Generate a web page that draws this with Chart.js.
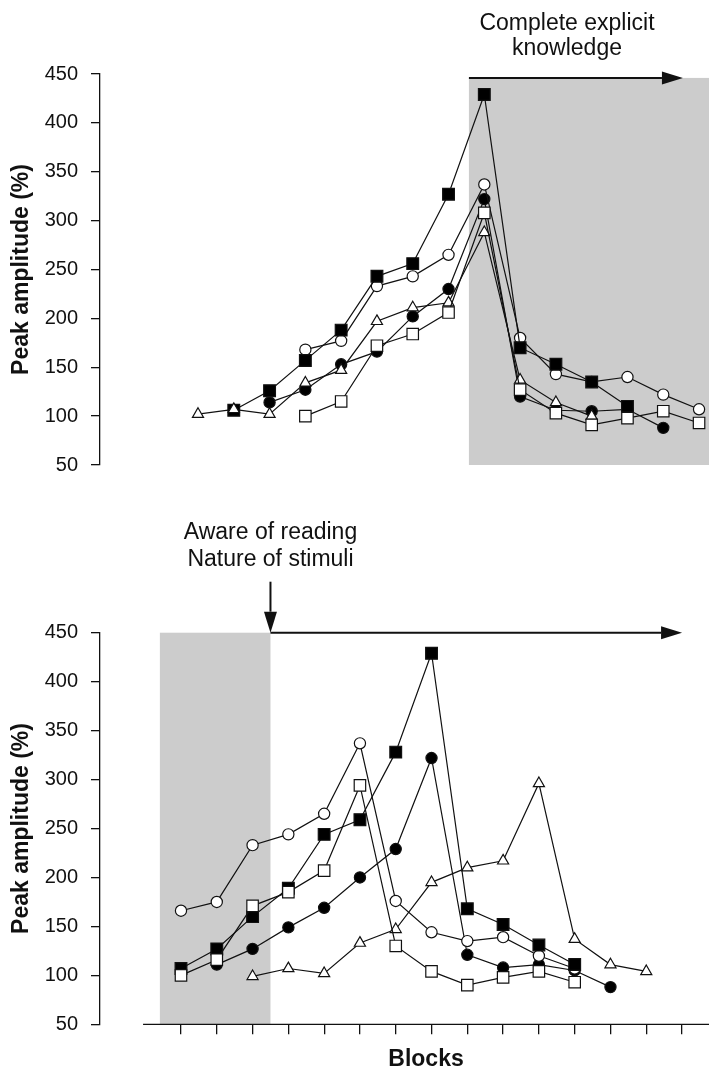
<!DOCTYPE html>
<html>
<head>
<meta charset="utf-8">
<title>Peak amplitude by block</title>
<script src="https://cdn.jsdelivr.net/npm/chart.js@4.4.1/dist/chart.umd.min.js"></script>
<style>
    html, body { margin: 0; padding: 0; background: #fff; }
    #page { position: relative; width: 709px; height: 1070px; }
    .panel { position: absolute; left: 0; width: 709px; }
    #top-panel { top: 0; height: 500px; }
    #bottom-panel { top: 500px; height: 570px; }
</style>
</head>
<body>
<div id="page">
    <div class="panel" id="top-panel"><canvas id="explicitChart"></canvas></div>
    <div class="panel" id="bottom-panel"><canvas id="awareChart"></canvas></div>
</div>
<script>
var FONT = '"Liberation Sans", Arial, Helvetica, sans-serif';
var INK = '#111';
var SHADE = '#cccccc';

// tick marks on the Blocks axis
var blocks = [ 1, 2, 3, 4, 5, 6, 7, 8, 9, 10, 11, 12, 13, 14, 15 ];
var yMin = 50;
var yMax = 450;
var yStep = 50;

// series order everywhere: filled square, open circle, filled circle, open square, open triangle

// top panel: aligned on complete explicit knowledge
var topFilledSquare = [ 106, 126, 157, 188, 243, 256, 327, 429, 170, 153, 135, 110 ];
var topOpenCircle = [ 168, 177, 233, 243, 265, 337, 180, 143, 135, 140, 122, 107 ];
var topFilledCircle = [ 114, 127, 153, 166, 202, 230, 322, 120, 106, 105, 107, 88 ];
var topOpenSquare = [ 100, 115, 172, 184, 206, 308, 127, 103, 91, 98, 105, 93 ];
var topOpenTriangle = [ 102, 107, 102, 134, 147, 197, 211, 216, 288, 137, 114, 100 ];
var topFirstBlock = [ 2, 4, 3, 4, 1 ];

// bottom panel: aligned on awareness of the reading nature of the stimuli
var bottomFilledSquare = [ 107, 127, 160, 189, 244, 259, 328, 429, 168, 152, 131, 111 ];
var bottomOpenCircle = [ 166, 175, 233, 244, 265, 337, 176, 144, 135, 139, 120, 107 ];
var bottomFilledCircle = [ 111, 127, 149, 169, 200, 229, 322, 121, 108, 111, 105, 88 ];
var bottomOpenSquare = [ 100, 116, 171, 185, 207, 294, 130, 104, 90, 98, 104, 93 ];
var bottomOpenTriangle = [ 99, 107, 102, 133, 147, 195, 210, 217, 296, 137, 111, 104 ];
var bottomFirstBlock = [ 1, 1, 2, 1, 3 ];

// marker look per series, layer 0 is painted last
var markers = [
    { style: 'rect', radius: 8.3, fill: '#000', layer: 2 },
    { style: 'circle', radius: 5.6, fill: '#fff', layer: 3 },
    { style: 'circle', radius: 5.6, fill: '#000', layer: 4 },
    { style: 'rect', radius: 8.1, fill: '#fff', layer: 0 },
    { style: 'triangle', radius: 6.4, fill: '#fff', layer: 1 }
];

Chart.defaults.font.family = FONT;
Chart.defaults.color = INK;

var toPoints = function ( values, first ) {
    return values.map( function ( v, i ) {
        return { x: first + i, y: v };
    } );
};

var buildDatasets = function ( seriesList, firstBlocks ) {
    return seriesList.map( function ( values, k ) {
        var m = markers[ k ];
        return {
            data: toPoints( values, firstBlocks[ k ] ),
            borderColor: INK,
            borderWidth: 1.2,
            pointStyle: m.style,
            pointRadius: m.radius,
            pointBackgroundColor: m.fill,
            pointBorderColor: INK,
            pointBorderWidth: 1.2,
            order: m.layer,
            tension: 0,
            fill: false
        };
    } );
};

var arrow = function ( ctx, x1, y1, x2, y2 ) {
    var ang = Math.atan2( y2 - y1, x2 - x1 );
    var head = 21;
    var half = 6.5;
    ctx.save();
    ctx.strokeStyle = INK;
    ctx.fillStyle = INK;
    ctx.lineWidth = 2;
    ctx.beginPath();
    ctx.moveTo( x1, y1 );
    ctx.lineTo( x2 - Math.cos( ang ) * head, y2 - Math.sin( ang ) * head );
    ctx.stroke();
    ctx.translate( x2, y2 );
    ctx.rotate( ang );
    ctx.beginPath();
    ctx.moveTo( 0, 0 );
    ctx.lineTo( -head, -half );
    ctx.lineTo( -head, half );
    ctx.closePath();
    ctx.fill();
    ctx.restore();
};

var caption = function ( ctx, lines, x, baseline, lead, font ) {
    ctx.save();
    ctx.fillStyle = INK;
    ctx.font = font;
    ctx.textAlign = 'center';
    ctx.textBaseline = 'alphabetic';
    lines.forEach( function ( line, i ) {
        ctx.fillText( line, x, baseline + i * lead );
    } );
    ctx.restore();
};

var yAxis = function () {
    return {
        type: 'linear',
        min: yMin,
        max: yMax,
        afterFit: function ( axis ) {
            axis.width = 100;
        },
        ticks: { stepSize: yStep, padding: 13, color: INK, font: { size: 20 } },
        grid: { drawOnChartArea: false, drawTicks: true, tickLength: 9, color: INK, lineWidth: 1.3 },
        border: { display: true, color: INK, width: 1.3 },
        title: {
            display: true,
            text: 'Peak amplitude (%)',
            color: INK,
            font: { size: 23, weight: 'bold', lineHeight: 1.2 },
            padding: { top: 8, bottom: 0 }
        }
    };
};

// top panel: shaded from the block where knowledge became explicit
var explicitFrom = 8.57;
var explicitArrowTo = 14.55;
var explicitShadeTop = 446;
var explicitTextAt = 11.31;

var explicitMarks = {
    id: 'explicitMarks',
    beforeDatasetsDraw: function ( chart ) {
        var ctx = chart.ctx;
        var xs = chart.scales.x;
        var ys = chart.scales.y;
        var left = xs.getPixelForValue( explicitFrom );
        var top = ys.getPixelForValue( explicitShadeTop );
        ctx.save();
        ctx.fillStyle = SHADE;
        ctx.fillRect( left, top, chart.chartArea.right - left, ys.getPixelForValue( yMin ) - top );
        ctx.restore();
    },
    afterDraw: function ( chart ) {
        var ctx = chart.ctx;
        var xs = chart.scales.x;
        var ys = chart.scales.y;
        var y = ys.getPixelForValue( explicitShadeTop );
        arrow( ctx, xs.getPixelForValue( explicitFrom ), y, xs.getPixelForValue( explicitArrowTo ), y );
        caption( ctx, [ 'Complete explicit', 'knowledge' ], xs.getPixelForValue( explicitTextAt ),
            chart.chartArea.top - 44, 25, '23px ' + FONT );
    }
};

new Chart( document.getElementById( 'explicitChart' ), {
    type: 'line',
    data: {
        datasets: buildDatasets(
            [ topFilledSquare, topOpenCircle, topFilledCircle, topOpenSquare, topOpenTriangle ],
            topFirstBlock )
    },
    options: {
        responsive: true,
        maintainAspectRatio: false,
        animation: false,
        layout: { autoPadding: false, padding: { top: 74, bottom: 35, left: 0, right: 0 } },
        plugins: { legend: { display: false }, tooltip: { enabled: false } },
        scales: {
            x: { type: 'linear', display: false, min: -1.738, max: 15.278 },
            y: yAxis()
        }
    },
    plugins: [ explicitMarks ]
} );

// bottom panel: shaded until the subject became aware
var awareFrom = 0.41;
var awareAt = 3.5;
var awareArrowTo = 15;
var axisStart = -0.06;

var awareMarks = {
    id: 'awareMarks',
    beforeDatasetsDraw: function ( chart ) {
        var ctx = chart.ctx;
        var xs = chart.scales.x;
        var ys = chart.scales.y;
        var left = xs.getPixelForValue( awareFrom );
        var top = ys.getPixelForValue( yMax );
        ctx.save();
        ctx.fillStyle = SHADE;
        ctx.fillRect( left, top, xs.getPixelForValue( awareAt ) - left, ys.getPixelForValue( yMin ) - top );
        ctx.restore();
    },
    afterDraw: function ( chart ) {
        var ctx = chart.ctx;
        var xs = chart.scales.x;
        var ys = chart.scales.y;
        var area = chart.chartArea;
        var x0 = xs.getPixelForValue( axisStart );
        var xa = xs.getPixelForValue( awareAt );
        var yTop = ys.getPixelForValue( yMax );

        // x axis baseline, starting right of the y axis
        ctx.save();
        ctx.strokeStyle = INK;
        ctx.lineWidth = 1.3;
        ctx.beginPath();
        ctx.moveTo( x0, area.bottom );
        ctx.lineTo( area.right, area.bottom );
        ctx.stroke();
        ctx.restore();

        caption( ctx, [ 'Blocks' ], ( x0 + area.right ) / 2, area.bottom + 42, 0, 'bold 23px ' + FONT );

        arrow( ctx, xa, yTop, xs.getPixelForValue( awareArrowTo ), yTop );
        arrow( ctx, xa, yTop - 51, xa, yTop );
        caption( ctx, [ 'Aware of reading', 'Nature of stimuli' ], xa, area.top - 94, 27, '23px ' + FONT );
    }
};

new Chart( document.getElementById( 'awareChart' ), {
    type: 'line',
    data: {
        datasets: buildDatasets(
            [ bottomFilledSquare, bottomOpenCircle, bottomFilledCircle, bottomOpenSquare, bottomOpenTriangle ],
            bottomFirstBlock )
    },
    options: {
        responsive: true,
        maintainAspectRatio: false,
        animation: false,
        layout: { autoPadding: false, padding: { top: 132.7, bottom: 0, left: 0, right: 0 } },
        plugins: { legend: { display: false }, tooltip: { enabled: false } },
        scales: {
            x: {
                type: 'linear',
                min: -1.263,
                max: 15.753,
                afterBuildTicks: function ( axis ) {
                    axis.ticks = blocks.map( function ( b ) {
                        return { value: b };
                    } );
                },
                afterFit: function ( axis ) {
                    axis.height = 45.7;
                },
                ticks: { display: false },
                grid: { drawOnChartArea: false, drawTicks: true, tickLength: 10, color: INK, lineWidth: 1.3 },
                border: { display: false }
            },
            y: yAxis()
        }
    },
    plugins: [ awareMarks ]
} );
</script>
</body>
</html>
